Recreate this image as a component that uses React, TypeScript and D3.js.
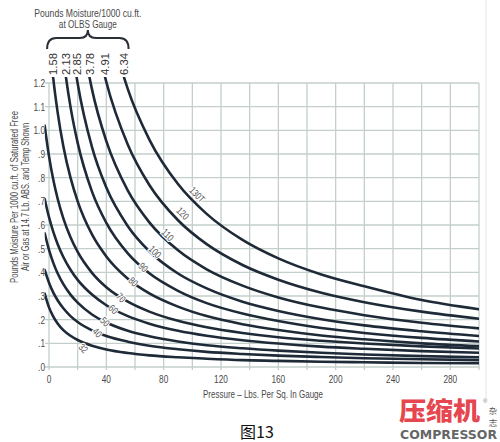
import React from "react";
import * as d3 from "d3";

// Pressure (psig) sample points
const pressures = [-3, 0, 3, 6, 10, 15, 20, 30, 40, 55, 70, 90, 110, 135, 160, 190, 220, 260, 300];

// Pounds moisture per 1000 cu.ft.
const m32 = [0.310, 0.252, 0.213, 0.184, 0.156, 0.132, 0.114, 0.090, 0.074, 0.059, 0.049, 0.041, 0.035, 0.029, 0.026, 0.022, 0.020, 0.017, 0.016];
const m40 = [0.410, 0.356, 0.314, 0.282, 0.248, 0.215, 0.190, 0.155, 0.131, 0.107, 0.090, 0.075, 0.064, 0.055, 0.048, 0.042, 0.037, 0.033, 0.029];
const m50 = [0.565, 0.495, 0.440, 0.396, 0.350, 0.306, 0.272, 0.222, 0.188, 0.153, 0.130, 0.108, 0.092, 0.079, 0.069, 0.060, 0.053, 0.046, 0.041];
const m60 = [0.710, 0.633, 0.571, 0.520, 0.465, 0.411, 0.368, 0.306, 0.261, 0.215, 0.183, 0.153, 0.132, 0.113, 0.099, 0.086, 0.077, 0.067, 0.060];
const m70 = [1.020, 0.891, 0.791, 0.712, 0.628, 0.548, 0.486, 0.398, 0.337, 0.276, 0.234, 0.195, 0.168, 0.144, 0.126, 0.111, 0.099, 0.087, 0.078];
const m80 = [1.647, 1.400, 1.217, 1.077, 0.933, 0.800, 0.700, 0.560, 0.467, 0.373, 0.311, 0.255, 0.215, 0.181, 0.156, 0.133, 0.117, 0.100, 0.088];
const m90 = [2.620, 2.130, 1.794, 1.549, 1.311, 1.099, 0.947, 0.741, 0.609, 0.480, 0.396, 0.322, 0.270, 0.226, 0.194, 0.165, 0.144, 0.123, 0.108];
const m100 = [3.590, 2.850, 2.361, 2.016, 1.687, 1.401, 1.198, 0.929, 0.758, 0.595, 0.489, 0.395, 0.332, 0.276, 0.237, 0.202, 0.176, 0.151, 0.131];
const m110 = [4.860, 3.780, 3.093, 2.617, 2.171, 1.791, 1.523, 1.173, 0.954, 0.745, 0.611, 0.493, 0.413, 0.344, 0.294, 0.251, 0.219, 0.187, 0.163];
const m120 = [6.380, 4.910, 3.990, 3.360, 2.775, 2.280, 1.934, 1.484, 1.204, 0.939, 0.769, 0.620, 0.519, 0.431, 0.369, 0.314, 0.274, 0.234, 0.204];
const m130 = [8.340, 6.340, 5.110, 4.280, 3.520, 2.880, 2.440, 1.865, 1.510, 1.174, 0.961, 0.773, 0.647, 0.537, 0.459, 0.391, 0.341, 0.283, 0.244];

const seriesNames = ["32", "40", "50", "60", "70", "80", "90", "100", "110", "120", "130T"];
const seriesValues = [m32, m40, m50, m60, m70, m80, m90, m100, m110, m120, m130];

// in-curve label positions (pressure, moisture)
const labelPressure = [23.9, 33.7, 39.1, 44.9, 50.2, 58.8, 65.8, 74.0, 82.8, 93.3, 103.4];
const labelMoisture = [0.079, 0.145, 0.191, 0.244, 0.293, 0.360, 0.421, 0.487, 0.558, 0.649, 0.728];

// values at 0 psig for the curves leaving the top of the chart (80..130 F)
const topLabels = ["1.58", "2.13", "2.85", "3.78", "4.91", "6.34"];

const xTicks = [0, 40, 80, 120, 160, 200, 240, 280];
const xGrid = d3.range(0, 301, 20);
const yTicks = d3.range(0, 13).map((i) => i / 10);

const W = 500;
const H = 442;
const M = { left: 49, right: 479, top: 83, bottom: 367 };

const GRID = "#c3cfcb";
const CURVE = "#1f2a38";
const TXT = "#4a4a4a";
const SANS = "'Liberation Sans', Arial, sans-serif";
const CJK = "'Noto Sans CJK SC', sans-serif";

// approximate condensed width of short numeric labels
const numLen = (s: string, digit = 4.6) =>
  s.split("").reduce((a, c) => a + (c === "." ? 2.3 : digit), 0);

function crossAt(vals: number[], level: number): number {
  for (let i = 0; i < vals.length - 1; i++) {
    if (vals[i] >= level && vals[i + 1] < level) {
      const t = (vals[i] - level) / (vals[i] - vals[i + 1]);
      return pressures[i] + t * (pressures[i + 1] - pressures[i]);
    }
  }
  return pressures[0];
}

export default function App() {
  const x = d3.scaleLinear().domain([0, 300]).range([M.left, M.right]);
  const y = d3.scaleLinear().domain([0, 1.2]).range([M.bottom, M.top]);

  const line = d3
    .line<number>()
    .x((_, i) => x(pressures[i]))
    .y((v) => y(v))
    .curve(d3.curveMonotoneX);

  const yFmt = (v: number) => (v >= 1 ? v.toFixed(1) : "." + Math.round(v * 10));

  const topY = y(1.225);
  const topXs = topLabels.map((_, i) => x(crossAt(seriesValues[5 + i], 1.225)));

  const bl = topXs[0] - 6;
  const br = topXs[topXs.length - 1] + 4;
  const bm = (bl + br) / 2;
  const bracePath = `M${bl},49 Q${bl},38 ${bl + 9},38 L${bm - 8},38 Q${bm},38 ${bm},30 Q${bm},38 ${bm + 8},38 L${br - 9},38 Q${br},38 ${br},49`;

  const yTitleC = 197;

  return (
    <svg
      width={W}
      height={H}
      viewBox={`0 0 ${W} ${H}`}
      style={{ position: "absolute", left: 0, top: 0, display: "block", background: "#fff" }}
    >
      <defs>
        <clipPath id="plotClip">
          <rect x={x(-3)} y={topY} width={M.right - x(-3)} height={M.bottom - topY + 4} />
        </clipPath>
      </defs>
      <rect x={0} y={0} width={W} height={H} fill="#fff" />

      {/* faint right frame line */}
      <line x1={486} x2={486} y1={0} y2={398} stroke="#e2e6e5" strokeWidth={1} />

      {/* grid */}
      <g stroke={GRID} strokeWidth={1.3}>
        {xGrid.map((p) => (
          <line key={"vx" + p} x1={x(p)} x2={x(p)} y1={M.top} y2={M.bottom + 3} />
        ))}
        {yTicks.map((v) => (
          <line key={"hy" + v} x1={M.left - 4} x2={M.right} y1={y(v)} y2={y(v)} />
        ))}
      </g>

      {/* y tick labels */}
      <g fontFamily={SANS} fontSize={11} fill={TXT} textAnchor="end">
        {yTicks.map((v) => {
          const s = yFmt(v);
          return (
            <text key={"yl" + v} x={M.left - 4} y={y(v)} dy="0.35em" textLength={numLen(s)} lengthAdjust="spacingAndGlyphs">
              {s}
            </text>
          );
        })}
      </g>

      {/* x tick labels */}
      <g fontFamily={SANS} fontSize={11} fill={TXT} textAnchor="middle">
        {xTicks.map((p) => (
          <text key={"xl" + p} x={x(p)} y={M.bottom + 16} textLength={numLen(String(p))} lengthAdjust="spacingAndGlyphs">
            {p}
          </text>
        ))}
      </g>

      <text x={263} y={398} textAnchor="middle" fontFamily={SANS} fontSize={11} fill={TXT} textLength={120} lengthAdjust="spacingAndGlyphs">
        Pressure – Lbs. Per Sq. In Gauge
      </text>

      {/* y axis title */}
      <g fontFamily={SANS} fontSize={10} fill={TXT} textAnchor="middle">
        <text transform={`translate(18,${yTitleC}) rotate(-90)`} textLength={172} lengthAdjust="spacingAndGlyphs">
          Pounds Moisture Per 1000 cu.ft. of Saturated Free
        </text>
        <text transform={`translate(28.5,${yTitleC}) rotate(-90)`} textLength={148} lengthAdjust="spacingAndGlyphs">
          Air or Gas at 14.7 Lb. ABS. and Temp Shown
        </text>
      </g>

      {/* curves */}
      <g clipPath="url(#plotClip)" fill="none" stroke={CURVE} strokeWidth={2.6} strokeLinecap="round">
        {seriesValues.map((vals, i) => (
          <path key={"c" + i} d={line(vals) || ""} />
        ))}
      </g>

      {/* curve labels */}
      <g fontFamily={SANS} fontSize={10} fill="#555" textAnchor="middle">
        {seriesNames.map((n, i) => (
          <text
            key={"lab" + n}
            transform={`translate(${x(labelPressure[i])},${y(labelMoisture[i])}) rotate(45)`}
            dy="0.35em"
            stroke="#fff"
            strokeWidth={2.5}
            paintOrder="stroke"
            textLength={numLen(n, 4.3)}
            lengthAdjust="spacingAndGlyphs"
          >
            {n}
          </text>
        ))}
      </g>

      {/* top annotation */}
      <g fontFamily={SANS} fontSize={11} fill={TXT} textAnchor="middle">
        <text x={bm} y={17} textLength={107} lengthAdjust="spacingAndGlyphs">Pounds Moisture/1000 cu.ft.</text>
        <text x={bm} y={28} textLength={58} lengthAdjust="spacingAndGlyphs">at OLBS Gauge</text>
      </g>
      <path d={bracePath} fill="none" stroke="#2a2f38" strokeWidth={2} />
      <g fontFamily={SANS} fontSize={11} fill="#333" textAnchor="middle">
        {topLabels.map((t, i) => (
          <text
            key={"tl" + t}
            transform={`translate(${topXs[i]},${64}) rotate(-90)`}
            dy="0.35em"
            textLength={22}
            lengthAdjust="spacingAndGlyphs"
          >
            {t}
          </text>
        ))}
      </g>

      {/* caption */}
      <text x={257} y={438} textAnchor="middle" fontFamily={CJK} fontSize={16} fill="#111">
        图13
      </text>

      {/* watermark */}
      <text x={399} y={420} fontFamily={CJK} fontWeight={900} fontSize={25} fill="#e6464f" textLength={81} lengthAdjust="spacingAndGlyphs">
        压缩机
      </text>
      <text x={483} y={403} fontFamily="sans-serif" fontSize={6} fill="#777">®</text>
      <text x={493} y={414} textAnchor="middle" fontFamily={CJK} fontSize={8.5} fill="#555">杂</text>
      <text x={493} y={426} textAnchor="middle" fontFamily={CJK} fontSize={8.5} fill="#555">志</text>
      <text x={400} y={439} fontFamily="'DejaVu Sans', sans-serif" fontWeight="bold" fontSize={12} fill="#666" textLength={97} lengthAdjust="spacingAndGlyphs">
        COMPRESSOR
      </text>
    </svg>
  );
}
